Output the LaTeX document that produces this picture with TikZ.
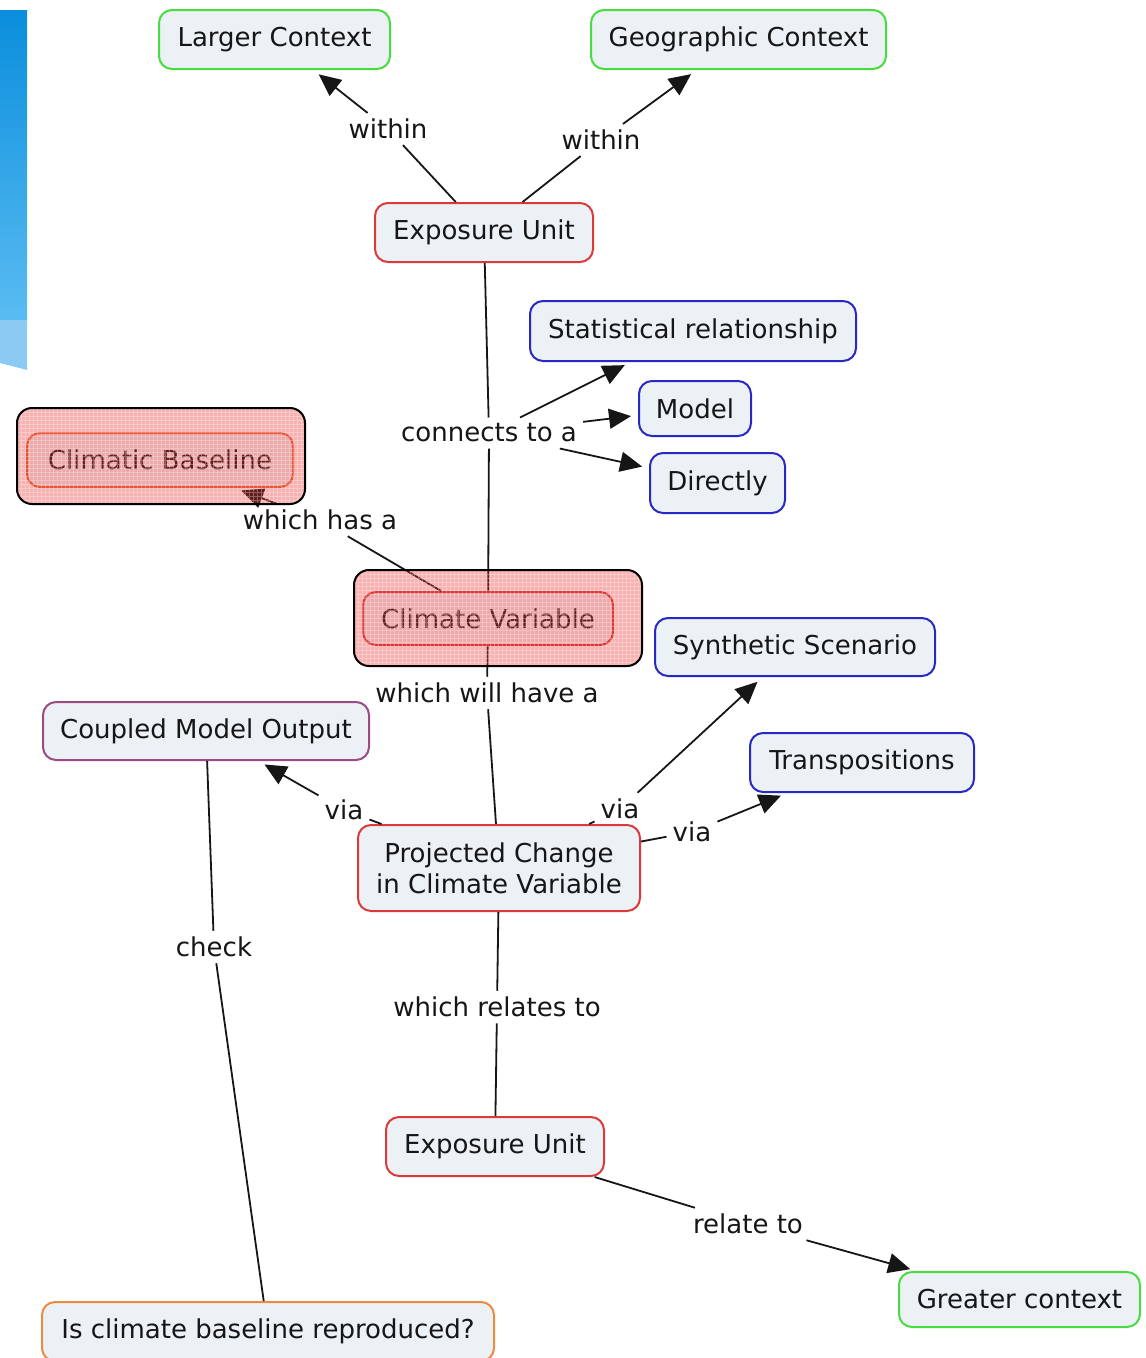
\documentclass[tikz,border=0pt]{standalone}
\usepackage{fontspec}
\newfontfamily\cmapfont{DejaVu Sans}
\usetikzlibrary{arrows.meta}

\definecolor{boxfill}{RGB}{236,241,245}
\definecolor{ink}{RGB}{22,22,22}
\definecolor{ctxgreen}{RGB}{72,220,64}
\definecolor{unitred}{RGB}{218,58,58}
\definecolor{methblue}{RGB}{40,40,196}
\definecolor{modelmauve}{RGB}{156,74,132}
\definecolor{checkorange}{RGB}{236,138,64}
\definecolor{baseorange}{RGB}{232,104,48}
\definecolor{hilitered}{RGB}{236,40,40}
\definecolor{stripetop}{RGB}{10,142,220}
\definecolor{stripebot}{RGB}{90,188,242}
\definecolor{stripelight}{RGB}{140,202,244}

\begin{document}
\begin{tikzpicture}
  [
    x = 1pt, y = -1pt,
    >= {Triangle[length=22pt, width=20pt]},
    concept/.style = {draw, line width = 2pt, rounded corners = 13pt,
                      fill = boxfill, text = ink, align = center,
                      font = \cmapfont\fontsize{26}{31}\selectfont,
                      inner sep = 0pt, minimum height = 59pt},
    ctxbox/.style   = {concept, draw = ctxgreen},
    unitbox/.style  = {concept, draw = unitred},
    methbox/.style  = {concept, draw = methblue},
    modelbox/.style = {concept, draw = modelmauve},
    checkbox/.style = {concept, draw = checkorange},
    basebox/.style  = {concept, draw = baseorange},
    phrase/.style   = {font = \cmapfont\fontsize{26}{31}\selectfont,
                       text = ink, inner sep = 6pt},
    conn/.style     = {line width = 1.8pt, draw = ink},
    arc/.style      = {conn, ->, shorten > = 7pt},
    hilite/.style   = {draw = black, line width = 2pt, rounded corners = 15pt,
                       fill = hilitered, fill opacity = .36, inner sep = 0pt,
                       path picture = {
                         \draw[white, draw opacity = .3, line width = 1pt, step = 4pt]
                           (path picture bounding box.south west) grid
                           (path picture bounding box.north east);
                       }},
  ]

  \useasboundingbox (0,0) rectangle (1146,1358);

  % blue strip at the left edge
  \shade[top color = stripetop, bottom color = stripebot] (0,10) rectangle (27,320);
  \fill[stripelight] (0,320) -- (27,320) -- (27,370) -- (0,363) -- cycle;

  % concepts
  \node (larger)  at (274.5,39.5)    [ctxbox, minimum width = 231pt] {Larger Context};
  \node (geo)     at (738.5,39.5)    [ctxbox, minimum width = 295pt] {Geographic Context};
  \node (expo)    at (484,232.5)     [unitbox, minimum width = 218pt] {Exposure Unit};
  \node (stat)    at (693,331)       [methbox, minimum width = 326pt, minimum height = 60pt] {Statistical relationship};
  \node (model)   at (695,408.5)     [methbox, minimum width = 112pt, minimum height = 55pt] {Model};
  \node (direct)  at (717.5,483)     [methbox, minimum width = 135pt, minimum height = 60pt] {Directly};
  \node (base)    at (160,460)       [basebox, minimum width = 266pt, minimum height = 54pt] {Climatic Baseline};
  \node (var)     at (488,618.5)     [unitbox, minimum width = 250pt, minimum height = 53pt] {Climate Variable};
  \node (synth)   at (795,647)       [methbox, minimum width = 280pt, minimum height = 58pt] {Synthetic Scenario};
  \node (coupled) at (206,731)       [modelbox, minimum width = 326pt, minimum height = 58pt] {Coupled Model Output};
  \node (trans)   at (862,762.5)     [methbox, minimum width = 224pt] {Transpositions};
  \node (proj)    at (499,868)       [unitbox, minimum width = 282pt, minimum height = 86pt] {Projected Change\\in Climate Variable};
  \node (expo2)   at (495,1146.5)    [unitbox, minimum width = 218pt] {Exposure Unit};
  \node (greater) at (1019.5,1299.5) [ctxbox, minimum width = 241pt, minimum height = 55pt] {Greater context};
  \node (repro)   at (268,1331.5)    [checkbox, minimum width = 452pt] {Is climate baseline reproduced?};

  % linking phrases
  \node (w1)    at (388,129)  [phrase] {within};
  \node (w2)    at (601,140)  [phrase] {within};
  \node (conto) at (489,433)  [phrase] {connects to a};
  \node (has)   at (320,520)  [phrase] {which has a};
  \node (will)  at (487,693)  [phrase] {which will have a};
  \node (via1)  at (344,810)  [phrase] {via};
  \node (via2)  at (620,809)  [phrase] {via};
  \node (via3)  at (692,832)  [phrase] {via};
  \node (chk)   at (214,947)  [phrase] {check};
  \node (rel)   at (497,1007) [phrase] {which relates to};
  \node (relto) at (748,1224) [phrase] {relate to};

  % plain links into the phrases
  \foreach \from/\to in {expo/w1, expo/w2, expo/conto, conto/var, var/has,
                         var/will, will/proj, proj/via1, proj/via2, proj/via3,
                         coupled/chk, chk/repro, proj/rel, rel/expo2, expo2/relto}
    \draw[conn] (\from) -- (\to);

  % arrows out of the phrases
  \foreach \from/\to in {w1/larger, w2/geo, conto/stat, conto/model, conto/direct,
                         has/base, via1/coupled, via2/synth, via3/trans, relto/greater}
    \draw[arc] (\from) -- (\to);

  % highlighted concepts, laid over the rest
  \node (basemark) at (161,456) [hilite, minimum width = 288pt, minimum height = 96pt] {};
  \node (varmark)  at (498,618) [hilite, minimum width = 288pt, minimum height = 96pt] {};
\end{tikzpicture}
\end{document}
